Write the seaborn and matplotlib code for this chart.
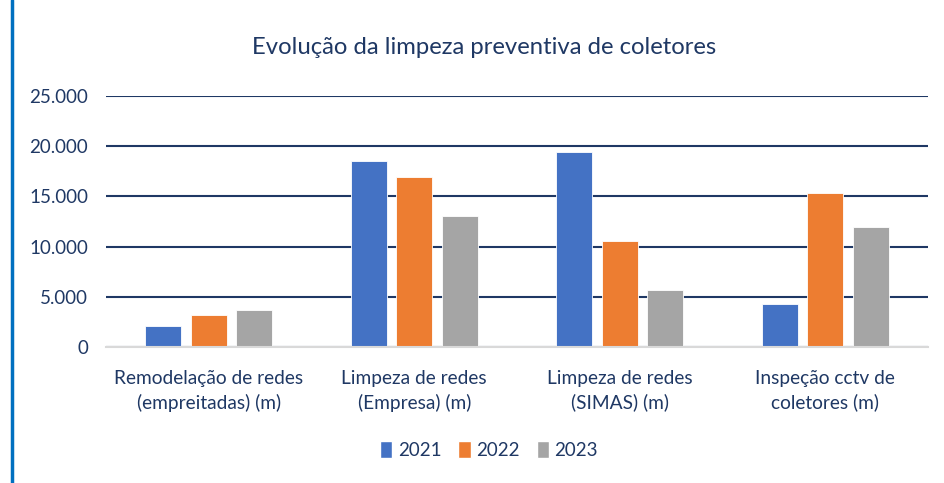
import matplotlib
matplotlib.use("Agg")
import matplotlib.pyplot as plt
import seaborn as sns
import pandas as pd
from matplotlib.ticker import FuncFormatter
from matplotlib.patches import Patch

categories = ["Remodelação de redes\n(empreitadas) (m)",
              "Limpeza de redes\n(Empresa) (m)",
              "Limpeza de redes\n(SIMAS) (m)",
              "Inspeção cctv de\ncoletores (m)"]
years = ["2021", "2022", "2023"]
v2021 = [2100, 18550, 19400, 4250]
v2022 = [3200, 16900, 10600, 15300]
v2023 = [3650, 13000, 5700, 12000]
colors = ["#4472C4", "#ED7D31", "#A5A5A5"]

rows = []
for y, vals in zip(years, [v2021, v2022, v2023]):
    for c, v in zip(categories, vals):
        rows.append({"cat": c, "year": y, "val": v})
df = pd.DataFrame(rows)

sns.set_theme(style="white")
plt.rcParams["font.family"] = ["Lato", "DejaVu Sans"]
txt = "#1F3864"

fig = plt.figure(figsize=(9.44, 4.83), dpi=100)
ax = fig.add_axes([106/944, 1-347/483, 822/944, 251/483])
sns.barplot(data=df, x="cat", y="val", hue="year", palette=colors,
            width=0.664, gap=0.21, ax=ax, legend=False,
            edgecolor="white", linewidth=0.6, saturation=1)
ax.set_ylim(0, 25000)
ax.set_xlim(-0.5, 3.5)
ax.set_yticks([0, 5000, 10000, 15000, 20000, 25000])
ax.yaxis.set_major_formatter(FuncFormatter(lambda v, p: f"{int(v):,}".replace(",", ".")))
ax.grid(axis="y", color=txt, linewidth=1.5)
ax.set_axisbelow(True)
for s in ["top", "right", "left"]:
    ax.spines[s].set_visible(False)
ax.spines["bottom"].set_color("#D9D9D9")
ax.spines["bottom"].set_linewidth(1.5)
ax.spines["bottom"].set_zorder(3)
ax.tick_params(axis="y", labelsize=13.5, labelcolor=txt, length=0, pad=13)
ax.tick_params(axis="x", labelsize=13.8, labelcolor=txt, length=0, pad=16.5)
for lbl in ax.get_xticklabels():
    lbl.set_linespacing(1.45)
ax.set_xlabel("")
ax.set_ylabel("")

fig.text(484/944, 1-47/483, "Evolução da limpeza preventiva de coletores",
         ha="center", va="center", fontsize=17.2, color=txt)

handles = [Patch(facecolor=c, label=y) for c, y in zip(colors, years)]
leg = fig.legend(handles=handles, loc="center", bbox_to_anchor=(489/944, 1-450/483),
                 ncol=3, frameon=False, fontsize=13.5, handlelength=0.65,
                 handleheight=1.0, handletextpad=0.3, columnspacing=0.9)
for t in leg.get_texts():
    t.set_color(txt)

fig.add_artist(plt.Line2D([11.5/944, 11.5/944], [0, 1], color="#0070C0",
                          linewidth=2.5, transform=fig.transFigure))

fig.savefig("out.png", dpi=100)
